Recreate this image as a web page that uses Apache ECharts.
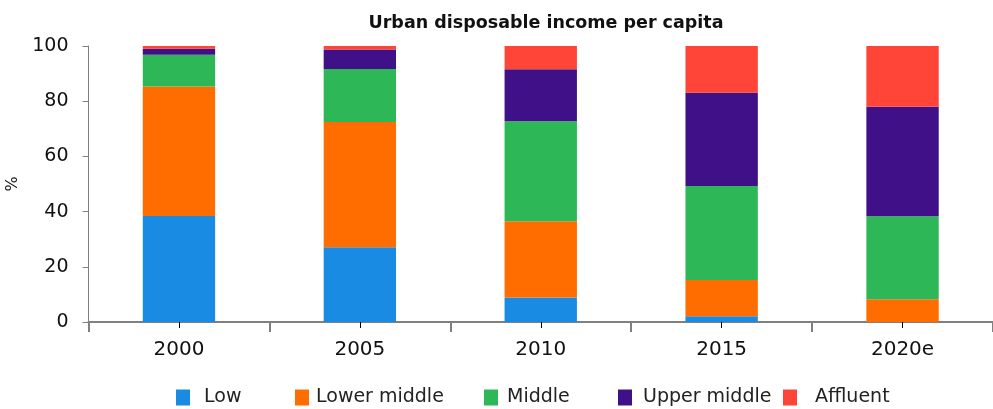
<!DOCTYPE html>
<html>
<head>
<meta charset="utf-8">
<script src="https://cdn.jsdelivr.net/npm/echarts@6/dist/echarts.min.js"></script>
<style>html,body{margin:0;padding:0;background:#fff}#c{width:993px;height:409px}</style>
</head>
<body>
<div id="c"></div>
<script>
var categories = ['2000', '2005', '2010', '2015', '2020e'];
var low = [38.4, 27.1, 8.9, 2.1, 0];
var lowerMiddle = [46.9, 45.4, 27.6, 13.1, 8.2];
var middle = [11.5, 19.2, 36.2, 34.1, 30.1];
var upperMiddle = [2.2, 7.0, 18.9, 33.8, 39.7];
var affluent = [1.0, 1.3, 8.4, 16.9, 22.0];
var yTicks = [0, 20, 40, 60, 80, 100];

var names = ['Low', 'Lower middle', 'Middle', 'Upper middle', 'Affluent'];
var colors = ['#1A8BE3', '#FF6C00', '#2EB757', '#3F1087', '#FF4438'];
var values = [low, lowerMiddle, middle, upperMiddle, affluent];
var legendLeft = [176, 295, 484, 618, 783];
var legendPad = [9, 2, 4, 6, 13];
var font = 'DejaVu Sans';

var chart = echarts.init(document.getElementById('c'));
var legends = names.map(function (n, i) {
  return {
    data: [n], left: legendLeft[i], top: 388, itemWidth: 14, itemHeight: 16,
    icon: 'rect', selectedMode: false, padding: 0,
    textStyle: { fontFamily: font, fontSize: 19, color: '#222', padding: [0, 0, 0, legendPad[i]] }
  };
});
chart.setOption({
  animation: false,
  title: {
    text: 'Urban disposable income per capita', left: 541, top: 9, textAlign: 'center',
    textStyle: { fontFamily: font, fontSize: 17.5, fontWeight: 'bold', color: '#111' }
  },
  legend: legends,
  grid: { left: 88.5, right: 0, top: 46, bottom: 87, outerBoundsMode: 'none' },
  xAxis: [{
    type: 'category', data: categories,
    axisLine: { lineStyle: { color: '#808080', width: 2 } },
    axisTick: { show: true, alignWithLabel: false, length: 10, lineStyle: { color: '#808080', width: 2 } },
    axisLabel: { fontFamily: font, fontSize: 20, color: '#111', margin: 18 }
  }, {
    type: 'category', data: categories, position: 'bottom',
    axisLine: { show: false },
    axisTick: { show: true, alignWithLabel: true, length: 6, lineStyle: { color: '#000', width: 1 } },
    axisLabel: { show: false }
  }],
  yAxis: {
    type: 'value', min: 0, max: 100, interval: 20,
    name: '%', nameLocation: 'middle', nameRotate: 90, nameGap: 65,
    nameTextStyle: { fontFamily: font, fontSize: 16, color: '#111' },
    axisLine: { show: true, lineStyle: { color: '#808080', width: 1 } },
    axisTick: { show: true, length: 6, lineStyle: { color: '#808080' } },
    axisLabel: { fontFamily: font, fontSize: 19, color: '#111', margin: 20,
      formatter: function (v) { return yTicks.indexOf(v) >= 0 ? String(v) : ''; } },
    splitLine: { show: false }
  },
  series: names.map(function (n, i) {
    return {
      name: n, type: 'bar', stack: 'total', data: values[i], barWidth: '40%',
      xAxisIndex: 0,
      itemStyle: { color: colors[i] }
    };
  })
});
</script>
</body>
</html>
